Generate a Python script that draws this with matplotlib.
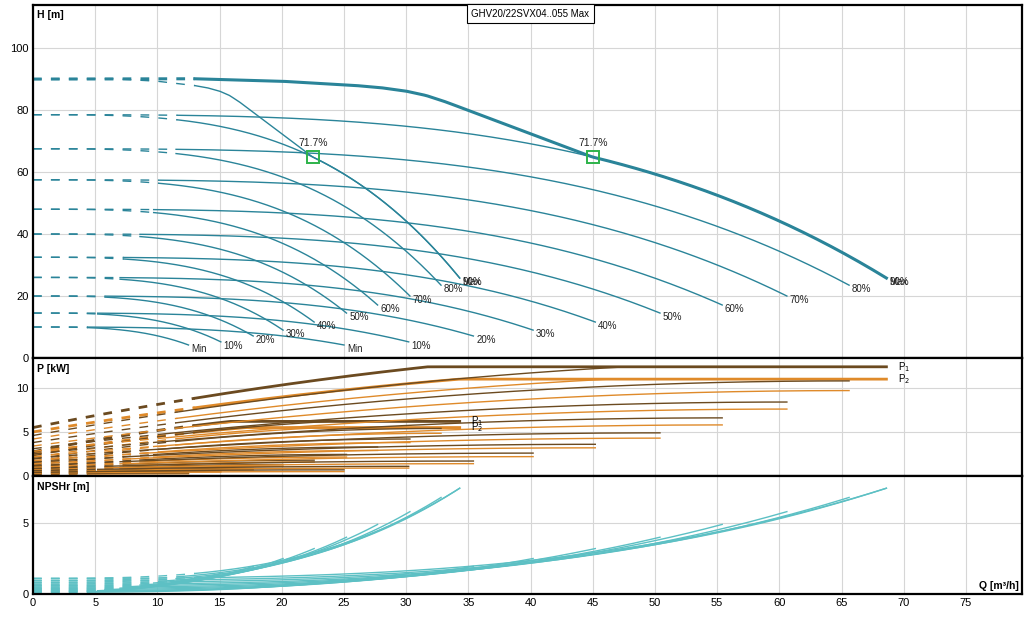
import numpy as np
import matplotlib.pyplot as plt

plt.rcParams['font.family'] = ['Liberation Sans', 'DejaVu Sans']
plt.rcParams['lines.scale_dashes'] = False

# Speed levels (highest first); values are per pump
speed_labels = ['Max', '90%', '80%', '70%', '60%', '50%', '40%', '30%', '20%', '10%', 'Min']
h_shutoff = [90, 78.5, 67.5, 57.5, 48, 40, 32.5, 26, 20, 14.5, 10]
q_min = [13.0, 11.6, 11.5, 10.1, 9.7, 8.6, 7.3, 7.0, 5.8, 5.2, 4.4]
q_end = [34.3, 34.3, 32.8, 30.3, 27.7, 25.2, 22.6, 20.1, 17.7, 15.1, 12.5]
h_end = [25.8, 25.8, 23.5, 20.0, 17.1, 14.5, 11.6, 9.0, 7.1, 5.2, 4.2]

# Max curve up to where it joins the 90% curve
q_max_pts = [0, 6.5, 10, 13, 14, 15, 15.8, 16.6, 22.5]
h_max_pts = [90, 90.1, 89.3, 87.9, 87.2, 86.1, 84.7, 82.6, 64.8]

bep_q = 22.5
bep_h = 64.8
bep_label = '71.7%'

# power per pump [kW]
p1_start = [2.75, 2.3, 1.9, 1.55, 1.25, 1.0, 0.78, 0.58, 0.42, 0.3, 0.2]
p1_end = [7.6, 6.6, 5.4, 4.2, 3.3, 2.45, 1.8, 1.3, 0.85, 0.55, 0.35]
p2_start = [2.5, 2.1, 1.7, 1.4, 1.1, 0.88, 0.68, 0.5, 0.36, 0.25, 0.16]
p2_end = [6.5, 5.9, 4.85, 3.8, 2.9, 2.15, 1.6, 1.1, 0.7, 0.45, 0.25]
p1_cap = 6.2
p2_cap = 5.5

# NPSHr [m]
npsh_start = [1.1, 0.96, 0.83, 0.70, 0.59, 0.49, 0.40, 0.32, 0.24, 0.18, 0.12]
npsh_end = [7.45, 7.45, 6.8, 5.8, 4.9, 4.0, 3.2, 2.5, 1.95, 1.45, 1.0]

pumps = [1, 2]
title = 'GHV20/22SVX04..055 Max'

c_head = '#2a8499'
c_p1 = '#6b4a20'
c_p2 = '#df8a2a'
c_npsh = '#5dc0c4'
DASH = (0, (6.3, 6.6))


def head(i, q):
    if i == 0:
        return np.where(q <= q_max_pts[-1], np.interp(q, q_max_pts, h_max_pts), head(1, q))
    return h_shutoff[i] - (h_shutoff[i] - h_end[i]) * (q / q_end[i]) ** 3.2


def power(q, p0, pe, qe, cap):
    x = q / qe
    return np.minimum(p0 + (pe - p0) * (1 - (1 - x) ** 2), cap)


def npsh(i, q):
    return npsh_start[i] + (npsh_end[i] - npsh_start[i]) * (q / q_end[i]) ** 3


def draw_curve(ax, i, n, func, scale, color, lw):
    # dashed below minimum flow, solid above
    qd = np.linspace(0, q_min[i] / n, 60)
    qs = np.linspace(q_min[i] / n, q_end[i], 200)
    ax.plot(qd * n, func(qd) * scale, color=color, lw=lw, linestyle=DASH)
    ax.plot(qs * n, func(qs) * scale, color=color, lw=lw)


fig = plt.figure(figsize=(10.36, 6.18), dpi=100)
L, W = 33 / 1036, 989 / 1036
ax_h = fig.add_axes([L, 260 / 618, W, 353 / 618])
ax_p = fig.add_axes([L, 142 / 618, W, 118 / 618])
ax_n = fig.add_axes([L, 24 / 618, W, 118 / 618])

for ax in (ax_h, ax_p, ax_n):
    ax.set_xlim(0, 79.5)
    ax.set_xticks(np.arange(0, 80, 5))
    ax.grid(color='#d6d6d6', lw=0.8)
    ax.set_axisbelow(True)
    ax.tick_params(length=0, labelsize=8, pad=3)
    for s in ax.spines.values():
        s.set_linewidth(1.6)
        s.set_color('black')

ax_h.set_ylim(0, 113.9)
ax_h.set_yticks([0, 20, 40, 60, 80, 100])
ax_p.set_ylim(0, 13.4)
ax_p.set_yticks([0, 5, 10])
ax_n.set_ylim(0, 8.31)
ax_n.set_yticks([0, 5])
ax_h.tick_params(labelbottom=False)
ax_p.tick_params(labelbottom=False)

# Head curves
for i, lab in enumerate(speed_labels):
    for n in pumps:
        lw = 2.2 if (i == 0 and n == 2) else 1.0
        draw_curve(ax_h, i, n, lambda q, i=i: head(i, q), 1, c_head, lw)
        ax_h.annotate(lab, (q_end[i] * n, h_end[i]), xytext=(2, -3),
                      textcoords='offset points', fontsize=7, va='center',
                      color='#222222')

for n in pumps:
    ax_h.plot(bep_q * n, bep_h, marker='s', ms=8, mfc='none', mec='#2db34a', mew=1.4)
    ax_h.text(bep_q * n, bep_h + 2.8, bep_label, fontsize=7.5, ha='center',
              va='bottom', color='#222222')

ax_h.text(0.503, 0.975, title, transform=ax_h.transAxes, ha='center', va='center',
          fontsize=7, bbox=dict(boxstyle='square,pad=0.45', fc='white', ec='black', lw=0.8))
ax_h.text(0.004, 0.985, 'H [m]', transform=ax_h.transAxes, fontsize=7.5,
          fontweight='bold', va='top')

# Power curves
for i in range(len(speed_labels)):
    for n in pumps:
        lw = 2.0 if i == 0 else 1.0
        draw_curve(ax_p, i, n, lambda q, i=i: power(q, p2_start[i], p2_end[i], q_end[i], p2_cap),
                   n, c_p2, lw)
        draw_curve(ax_p, i, n, lambda q, i=i: power(q, p1_start[i], p1_end[i], q_end[i], p1_cap),
                   n, c_p1, lw)

for n in pumps:
    ax_p.text(q_end[0] * n + 0.9, p1_cap * n, r'P$_1$', fontsize=7, va='center')
    ax_p.text(q_end[0] * n + 0.9, p2_cap * n, r'P$_2$', fontsize=7, va='center')
ax_p.text(0.004, 0.95, 'P [kW]', transform=ax_p.transAxes, fontsize=7.5,
          fontweight='bold', va='top')

# NPSHr curves
for i in range(len(speed_labels)):
    for n in pumps:
        draw_curve(ax_n, i, n, lambda q, i=i: npsh(i, q), 1, c_npsh, 1.0)

ax_n.text(0.004, 0.95, 'NPSHr [m]', transform=ax_n.transAxes, fontsize=7.5,
          fontweight='bold', va='top')
ax_n.text(0.997, 0.07, 'Q [m\u00b3/h]', transform=ax_n.transAxes, fontsize=7.5,
          fontweight='bold', ha='right', va='center')

fig.savefig('out.png', dpi=100)
